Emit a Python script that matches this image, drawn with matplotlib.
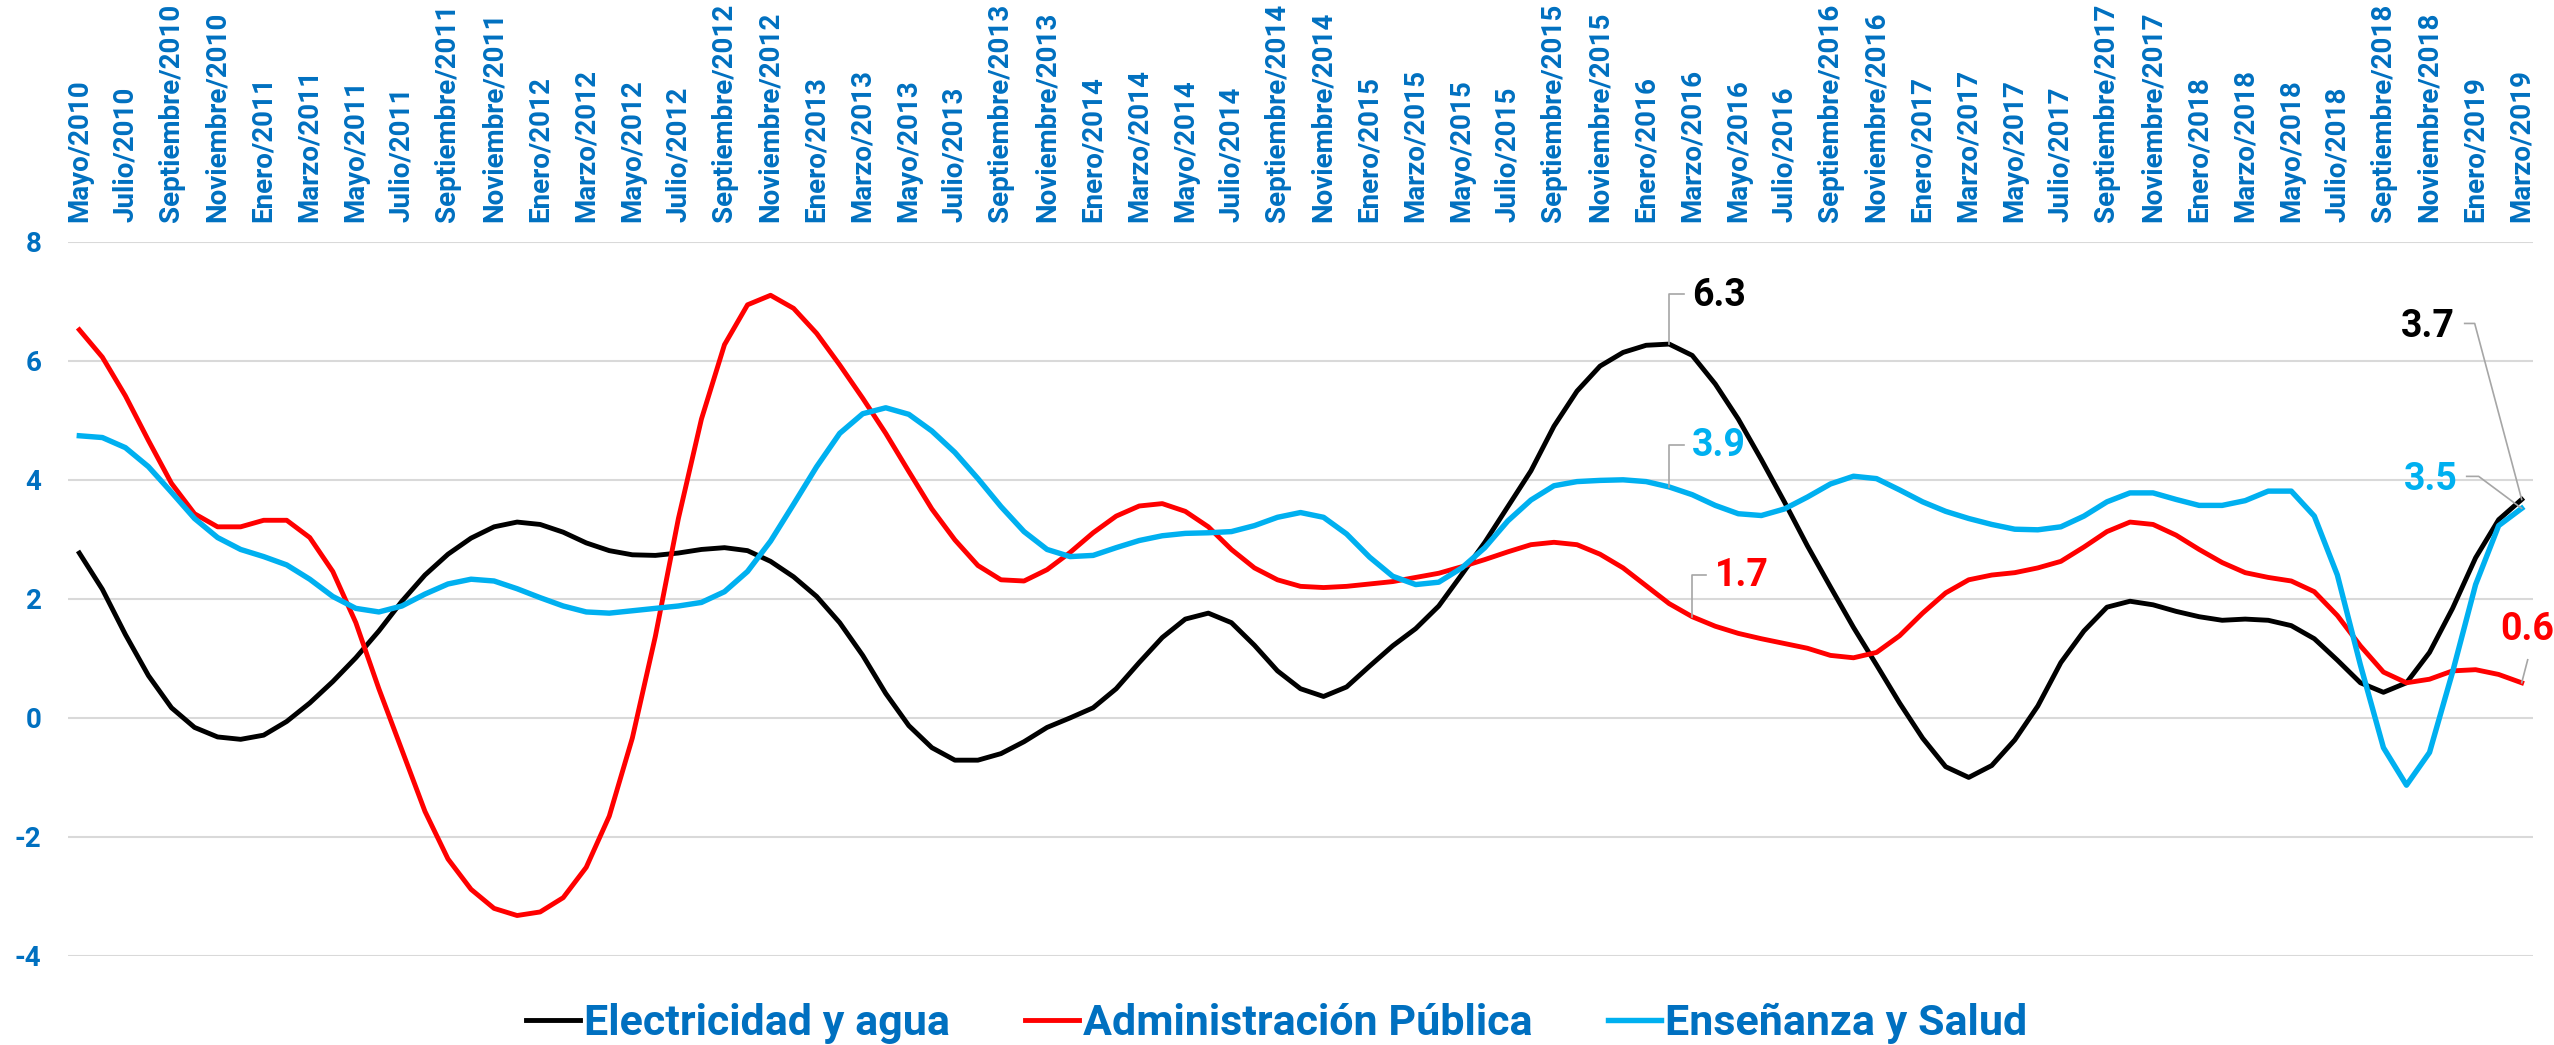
import numpy as np
import matplotlib
matplotlib.use("Agg")
import matplotlib.pyplot as plt
from matplotlib.lines import Line2D
from matplotlib.transforms import IdentityTransform

plt.rcParams['font.family'] = ['Roboto', 'DejaVu Sans']
plt.rcParams['axes.unicode_minus'] = False

# ______________________________________________________________________________
# Data (variación %, mayo/2010 - marzo/2019)

meses = ["Enero", "Febrero", "Marzo", "Abril", "Mayo", "Junio", "Julio", "Agosto",
         "Septiembre", "Octubre", "Noviembre", "Diciembre"]
fechas = [f"{meses[(4 + i) % 12]}/{2010 + (4 + i) // 12}" for i in range(107)]

electricidad = [2.77, 2.16, 1.40, 0.71, 0.17, -0.16, -0.32, -0.36, -0.29, -0.06, 0.25, 0.61, 1.01, 1.46,
                1.96, 2.40, 2.75, 3.02, 3.21, 3.29, 3.25, 3.12,
                2.94, 2.81, 2.74, 2.73, 2.77, 2.83, 2.86, 2.81, 2.63, 2.37, 2.04, 1.60, 1.05, 0.41,
                -0.13, -0.50, -0.71, -0.71, -0.60, -0.40, -0.16,
                0.00, 0.17, 0.49, 0.93, 1.35, 1.66, 1.76, 1.60, 1.22, 0.79, 0.49, 0.36, 0.52, 0.87,
                1.21, 1.50, 1.88, 2.41, 2.95, 3.55, 4.15,
                4.90, 5.49, 5.91, 6.14, 6.26, 6.28, 6.09, 5.61, 5.02, 4.34, 3.63, 2.89, 2.20, 1.52,
                0.89, 0.25, -0.34, -0.82, -1.00, -0.80, -0.37,
                0.20, 0.93, 1.46, 1.86, 1.96, 1.90, 1.79, 1.70, 1.64, 1.66, 1.64, 1.55, 1.33, 0.97,
                0.59, 0.43, 0.59, 1.10, 1.84, 2.69, 3.33, 3.67]

administracion = [6.52, 6.06, 5.41, 4.66, 3.94, 3.43, 3.21, 3.21, 3.32, 3.32, 3.03, 2.46, 1.60, 0.49,
                  -0.54, -1.57, -2.37, -2.88, -3.20, -3.32, -3.26, -3.02,
                  -2.51, -1.65, -0.34, 1.37, 3.35, 5.02, 6.27, 6.94, 7.10, 6.88, 6.46, 5.93, 5.37,
                  4.78, 4.14, 3.51, 2.99, 2.56, 2.32, 2.30, 2.49,
                  2.78, 3.11, 3.39, 3.56, 3.60, 3.47, 3.21, 2.83, 2.52, 2.32, 2.21, 2.19, 2.21, 2.25,
                  2.29, 2.36, 2.43, 2.54, 2.66, 2.79, 2.91,
                  2.95, 2.91, 2.75, 2.52, 2.22, 1.92, 1.70, 1.54, 1.42, 1.33, 1.25, 1.17, 1.05, 1.01,
                  1.10, 1.38, 1.76, 2.10, 2.32, 2.40, 2.44,
                  2.52, 2.63, 2.87, 3.13, 3.29, 3.25, 3.07, 2.83, 2.61, 2.44, 2.36, 2.30, 2.12, 1.72,
                  1.21, 0.77, 0.59, 0.65, 0.79, 0.81, 0.73, 0.59]

ensenanza = [4.74, 4.71, 4.54, 4.22, 3.79, 3.35, 3.03, 2.83, 2.71, 2.57, 2.33, 2.04, 1.84, 1.78, 1.88,
             2.08, 2.25, 2.33, 2.30, 2.17, 2.02, 1.88,
             1.78, 1.76, 1.80, 1.84, 1.88, 1.94, 2.12, 2.46, 2.97, 3.59, 4.22, 4.78, 5.11, 5.21,
             5.10, 4.82, 4.46, 4.02, 3.55, 3.13, 2.83,
             2.71, 2.73, 2.86, 2.98, 3.06, 3.10, 3.11, 3.13, 3.23, 3.37, 3.45, 3.37, 3.09, 2.70,
             2.38, 2.24, 2.28, 2.52, 2.86, 3.31, 3.66,
             3.90, 3.97, 3.99, 4.00, 3.97, 3.88, 3.75, 3.57, 3.43, 3.40, 3.51, 3.71, 3.93, 4.06,
             4.02, 3.83, 3.63, 3.47, 3.35, 3.25, 3.17,
             3.16, 3.21, 3.39, 3.63, 3.78, 3.78, 3.67, 3.57, 3.57, 3.65, 3.81, 3.81, 3.39, 2.40,
             0.89, -0.50, -1.13, -0.58, 0.77, 2.24, 3.23, 3.52]

azul = "#0070C0"
negro, rojo, celeste = "#000000", "#FF0000", "#00B0F0"
gris = "#A6A6A6"

# ______________________________________________________________________________
# Figure

fig = plt.figure(figsize=(25.54, 10.45), dpi=100)
ax = fig.add_axes([0.02655, 0.08517, 0.96531, 0.68353])

x = np.arange(len(fechas))
ax.plot(x, electricidad, color=negro, lw=3.5, label="Electricidad y agua")
ax.plot(x, administracion, color=rojo, lw=3.5, label="Administración Pública")
ax.plot(x, ensenanza, color=celeste, lw=3.9, label="Enseñanza y Salud")

ax.set_xlim(-0.5, len(fechas) - 0.5)
ax.set_ylim(-4, 8)
ax.set_yticks(range(-4, 9, 2))
ax.grid(axis="y", color="#D9D9D9", lw=1.5)
ax.grid(axis="x", visible=False)
ax.set_axisbelow(True)
for s in ax.spines.values():
    s.set_visible(False)

ax.xaxis.tick_top()
ax.set_xticks(x[::2])
ax.set_xticklabels(fechas[::2], rotation=90, fontsize=20, fontweight="bold", color=azul)
ax.tick_params(axis="x", length=0, pad=14.4)
ax.tick_params(axis="y", length=0, pad=19, labelsize=20, labelcolor=azul)
for t in ax.get_yticklabels():
    t.set_fontweight("bold")


# data labels with leader lines (offsets in pixels, y up)
def etiqueta(serie, idx, color, dx, dy, guia):
    xv, yv = x[idx], serie[idx]
    ax.annotate(f"{yv:.1f}", (xv, yv), xytext=(dx * 0.72, dy * 0.72), textcoords="offset points",
                ha="center", va="center", fontsize=27, fontweight="bold", color=color)
    px, py = ax.transData.transform((xv, yv))
    xs = [px] + [px + a for a, b in guia]
    ys = [py] + [py + b for a, b in guia]
    fig.add_artist(Line2D(xs, ys, color=gris, lw=1.2, transform=IdentityTransform()))


etiqueta(electricidad, 69, negro, 50, 49, [(0, 50), (15, 50)])
etiqueta(ensenanza, 69, celeste, 50, 41, [(0, 42), (15, 42)])
etiqueta(administracion, 70, rojo, 50, 41, [(0, 42), (14, 42)])
etiqueta(electricidad, -1, negro, -94, 173, [(-47, 176), (-57, 176)])
etiqueta(ensenanza, -1, celeste, -91, 29, [(-43, 32), (-55, 32)])
etiqueta(administracion, -1, rojo, 5, 53, [(6, 23)])

fig.legend(*ax.get_legend_handles_labels(), loc="center", bbox_to_anchor=(0.5, 0.021), ncol=3,
           frameon=False, prop={"size": 31, "weight": "bold"}, labelcolor=azul,
           handlelength=1.24, handletextpad=0.1, columnspacing=1.75)

fig.savefig("out.png", dpi=100)
